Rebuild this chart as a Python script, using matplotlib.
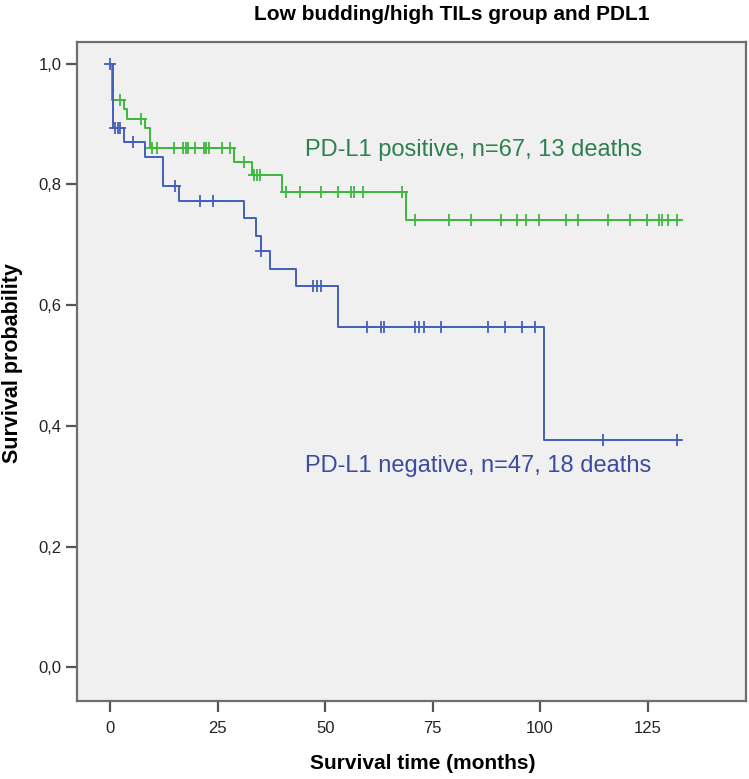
import numpy as np
import matplotlib
matplotlib.use("Agg")
import matplotlib.pyplot as plt

plt.rcParams["font.family"] = ["Liberation Sans", "DejaVu Sans"]

# PD-L1 positive group: step times (months) and survival after each step
pos_times = [0, 0.3, 0.4, 3.3, 3.9, 8.0, 9.3, 28.7, 33.0, 39.9, 68.8]
pos_surv = [1.0, 0.986, 0.940, 0.925, 0.909, 0.894, 0.861, 0.838, 0.815, 0.788, 0.741]
pos_end = 132.5
pos_censor = [2.3, 7.2, 9.6, 10.9, 14.9, 17.0, 17.7, 18.2, 19.8, 21.7, 22.3,
              22.9, 25.9, 27.9, 31.0, 33.5, 34.1, 34.9, 40.8, 44.1, 49.0,
              52.9, 56.0, 56.7, 58.9, 67.9, 70.9, 78.9, 83.9, 90.9, 94.7,
              96.7, 99.8, 106.0, 108.9, 115.9, 120.8, 124.8, 127.7, 128.3,
              129.8, 131.8]

# PD-L1 negative group
neg_times = [0, 0.7, 3.1, 8.0, 12.2, 16.0, 31.0, 34.0, 35.0, 37.1, 43.1, 53.0, 100.9]
neg_surv = [1.0, 0.894, 0.870, 0.846, 0.798, 0.772, 0.744, 0.715, 0.690,
            0.660, 0.631, 0.564, 0.376]
neg_end = 132.5
neg_censor = [0, 1.2, 1.7, 2.2, 5.2, 15.1, 20.9, 24.0, 35.0, 47.1, 48.1, 49.0,
              59.8, 62.9, 63.7, 70.8, 71.8, 72.9, 76.9, 87.9, 91.9, 95.7,
              98.8, 114.7, 131.8]

pos_label = "PD-L1 positive, n=67, 13 deaths"
neg_label = "PD-L1 negative, n=47, 18 deaths"
x_ticks = [0, 25, 50, 75, 100, 125]
y_ticks = [0.0, 0.2, 0.4, 0.6, 0.8, 1.0]
y_tick_labels = ["0,0", "0,2", "0,4", "0,6", "0,8", "1,0"]

GREEN = "#3DB83D"
BLUE = "#4360B8"


def surv_at(times, surv, t):
    idx = np.searchsorted(times, t, side="right") - 1
    return np.asarray(surv)[idx]


def draw_curve(ax, times, surv, end, censor, color):
    xs = list(times) + [end]
    ys = list(surv) + [surv[-1]]
    ax.step(xs, ys, where="post", color=color, linewidth=1.4, zorder=3)
    ax.plot(
        censor,
        surv_at(times, surv, censor),
        linestyle="none",
        marker="+",
        markersize=8,
        markeredgewidth=1.3,
        color=color,
        zorder=4,
    )


fig = plt.figure(figsize=(7.49, 7.79), dpi=100)
ax = fig.add_axes([0.103, 0.100, 0.893, 0.846])
ax.set_facecolor("#F0F0F0")

draw_curve(ax, pos_times, pos_surv, pos_end, pos_censor, GREEN)
draw_curve(ax, neg_times, neg_surv, neg_end, neg_censor, BLUE)

ax.text(45.3, 0.857, pos_label, color="#2F7F4F", fontsize=17, va="center")
ax.text(45.3, 0.333, neg_label, color="#3C4C9E", fontsize=17, va="center")

ax.set_xlim(-7.7, 147.9)
ax.set_ylim(-0.056, 1.036)
ax.set_xticks(x_ticks)
ax.set_yticks(y_ticks)
ax.set_yticklabels(y_tick_labels)
ax.tick_params(axis="both", direction="out", length=8, width=1.6,
               colors="#555555", labelcolor="#222222", labelsize=12)
ax.tick_params(axis="x", pad=6)
ax.tick_params(axis="y", pad=3)

for side in ["left", "bottom", "top", "right"]:
    ax.spines[side].set_color("#6E6E6E")
    ax.spines[side].set_linewidth(1.6)

# axis titles and chart title placed in figure coordinates
fig.text(0.565, 0.0205, "Survival time (months)", fontsize=15,
         fontweight="bold", ha="center", va="center")
fig.text(0.017, 0.534, "Survival probability", fontsize=15.5,
         fontweight="bold", ha="center", va="center", rotation=90)
fig.text(0.603, 0.982, "Low budding/high TILs group and PDL1", fontsize=15,
         fontweight="bold", ha="center", va="center")

fig.savefig("out.png", dpi=100)
